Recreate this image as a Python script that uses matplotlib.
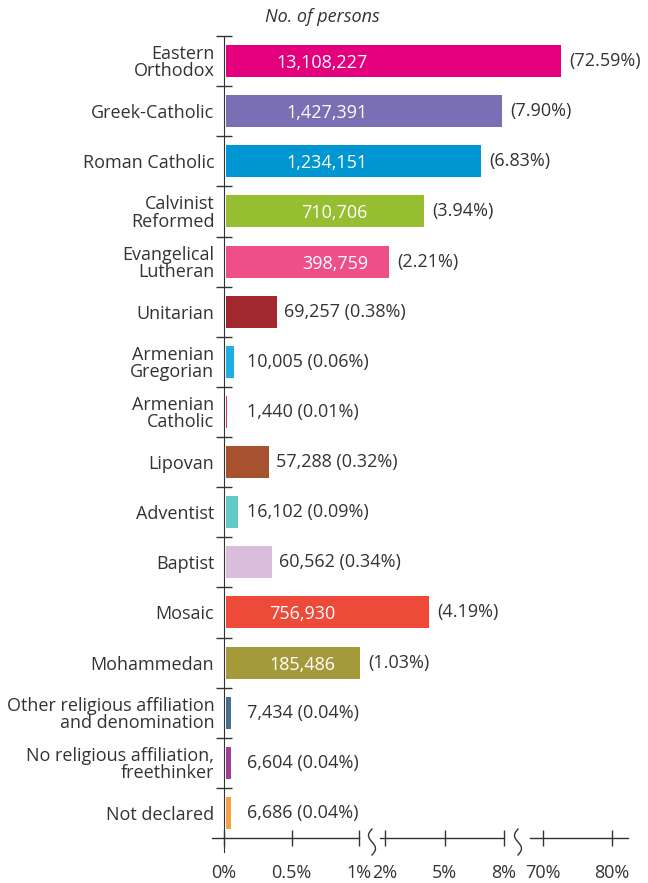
"""
Religious affiliation - horizontal bars on a broken percentage axis.
"""
import numpy as np
import matplotlib.pyplot as plt
from matplotlib import transforms

categories = [
    "Eastern\nOrthodox", "Greek-Catholic", "Roman Catholic", "Calvinist\nReformed",
    "Evangelical\nLutheran", "Unitarian", "Armenian\nGregorian", "Armenian\nCatholic",
    "Lipovan", "Adventist", "Baptist", "Mosaic", "Mohammedan",
    "Other religious affiliation\nand denomination",
    "No religious affiliation,\nfreethinker", "Not declared",
]
persons = [13108227, 1427391, 1234151, 710706, 398759, 69257, 10005, 1440,
           57288, 16102, 60562, 756930, 185486, 7434, 6604, 6686]
share = [72.59, 7.90, 6.83, 3.94, 2.21, 0.38, 0.06, 0.01,
         0.32, 0.09, 0.34, 4.19, 1.03, 0.04, 0.04, 0.04]
colors = ["#E4007C", "#7A6FB5", "#0096D1", "#97BE31", "#EF4F88", "#A2282F",
          "#1FAEE2", "#E4346E", "#A6512F", "#62C8C8", "#D9BDDA", "#EE4A3A",
          "#A59A3B", "#466F8F", "#9E3F95", "#F69F45"]
inside = [True, True, True, True, True, False, False, False,
          False, False, False, True, True, False, False, False]

x_ticks = [0, 0.5, 1, 2, 5, 8, 70, 80]
x_ticklabels = ["0%", "0.5%", "1%", "2%", "5%", "8%", "70%", "80%"]

# broken axis: piecewise-linear mapping percent -> pixel offset
PCT = np.array([-1.0, 0.0, 1.0, 2.0, 8.0, 70.0, 80.0, 90.0])
PIX = np.array([-135.0, 0.0, 135.0, 161.0, 280.0, 319.0, 388.0, 457.0])


def fwd(v):
    return np.interp(v, PCT, PIX)


def inv(u):
    return np.interp(u, PIX, PCT)


TXT = "#333333"
FS = 13
plt.rcParams["font.family"] = ["Open Sans", "DejaVu Sans"]

fig = plt.figure(figsize=(6.48, 8.83), dpi=100)
ax = fig.add_axes([212 / 648, 1 - 838 / 883, 416 / 648, 802 / 883])
ax.set_xscale("function", functions=(fwd, inv))
ax.set_xlim(inv(-12), inv(404))

n = len(categories)
y = np.arange(n)
ax.barh(y, share, height=0.64, left=inv(2), color=colors, linewidth=0)
ax.set_ylim(n - 0.5, -0.5)

# inside labels end at one of two x positions (px from the y axis)
right_u = [144] * n
right_u[11] = right_u[12] = 111

for i in range(n):
    if inside[i]:
        ax.text(inv(right_u[i]), y[i] + 0.04, f"{persons[i]:,}", color="white",
                fontsize=FS, ha="right", va="center")
        ax.annotate(f"({share[i]:.2f}%)", (share[i], y[i]), xytext=(6, 0),
                    textcoords="offset points", ha="left", va="center",
                    fontsize=FS, color=TXT)
    else:
        ax.annotate(f"{persons[i]:,} ({share[i]:.2f}%)", (max(share[i], 0.1), y[i]),
                    xytext=(6.5, 0), textcoords="offset points", ha="left",
                    va="center", fontsize=FS, color=TXT)

# y axis at 0%
for s in ["top", "right", "bottom"]:
    ax.spines[s].set_visible(False)
ax.spines["left"].set_position(("data", 0))
ax.spines["left"].set_bounds(-0.5, n - 0.5 + 0.28)
ax.spines["left"].set_color(TXT)
ax.set_yticks(y)
ax.set_yticklabels(categories, fontsize=FS, color=TXT, linespacing=0.95)
ax.set_yticks(np.arange(-0.5, n - 0.5, 1), minor=True)
ax.tick_params(axis="y", which="major", length=0, pad=7)
ax.tick_params(axis="y", which="minor", length=11, direction="inout",
               color=TXT, width=1)

# x axis: three segments with break marks
xtr = ax.get_xaxis_transform()
for a, b in [(inv(-12), 1), (inv(156), 8), (inv(306), inv(404))]:
    ax.plot([a, b], [0, 0], color=TXT, lw=1, transform=xtr, clip_on=False)
t = np.linspace(-1, 1, 40)
for ub in [148, 294]:
    tr = fig.dpi_scale_trans + transforms.ScaledTranslation(inv(ub), 0, xtr)
    ax.plot(0.035 * np.sin(np.pi * t), -0.13 * t - 0.04, color=TXT, lw=1,
            transform=tr, clip_on=False)
ax.set_xticks(x_ticks)
ax.set_xticklabels(x_ticklabels, fontsize=FS, color=TXT)
ax.xaxis.set_minor_locator(plt.NullLocator())
ax.tick_params(axis="x", length=11, direction="inout", color=TXT, width=1, pad=13)

fig.text(322 / 648, 1 - 17 / 883, "No. of persons", ha="center", va="center",
         fontsize=FS, style="italic", color=TXT)

fig.savefig("out.png", dpi=100)
